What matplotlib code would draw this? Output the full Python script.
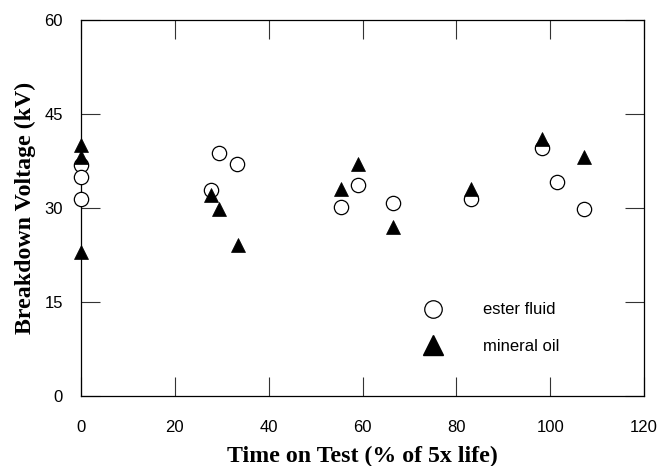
import matplotlib
matplotlib.use('Agg')
import matplotlib.pyplot as plt
from matplotlib.lines import Line2D

# ester fluid readings (time on test %, breakdown kV)
ester_time = [0, 0, 0, 27.7, 29.5, 33.3, 55.4, 59.0, 66.6, 83.1, 98.2, 101.4, 107.2]
ester_kv = [36.9, 34.9, 31.4, 32.9, 38.7, 37.1, 30.1, 33.7, 30.8, 31.4, 39.5, 34.2, 29.8]

# mineral oil readings
oil_time = [0, 0, 0, 27.7, 29.5, 33.4, 55.4, 59.0, 66.6, 83.1, 98.2, 107.3]
oil_kv = [40.0, 38.1, 23.0, 32.1, 29.9, 24.1, 33.0, 37.1, 27.0, 33.0, 41.0, 38.1]

x_ticks = [0, 20, 40, 60, 80, 100, 120]
y_ticks = [0, 15, 30, 45, 60]

sans = ['Liberation Sans', 'DejaVu Sans']
serif = ['Liberation Serif', 'DejaVu Serif']

fig = plt.figure(figsize=(6.62, 4.66), dpi=100)
ax = fig.add_axes([81 / 662, 1 - 396 / 466, 563 / 662, 376 / 466])

ax.plot(ester_time, ester_kv, linestyle='none', marker='o', markersize=10.3, clip_on=False,
        markerfacecolor='white', markeredgecolor='black', markeredgewidth=0.9, zorder=3)
ax.plot(oil_time, oil_kv, linestyle='none', marker='^', markersize=9.4, clip_on=False,
        markerfacecolor='black', markeredgecolor='black', markeredgewidth=0.5, zorder=4)

ax.set_xlim(0, 120)
ax.set_ylim(0, 60)
ax.set_xticks(x_ticks)
ax.set_yticks(y_ticks)
ax.tick_params(direction='in', length=13.7, width=0.8, top=True, right=True,
               labelsize=12, color='#333333')
ax.tick_params(axis='x', pad=17)
ax.tick_params(axis='y', pad=13)
for lab in ax.get_xticklabels() + ax.get_yticklabels():
    lab.set_family(sans)
for sp in ax.spines.values():
    sp.set_linewidth(0.9)

ax.set_xlabel('Time on Test (% of 5x life)', family=serif, fontweight='bold', fontsize=17.2, labelpad=8)
ax.set_ylabel('Breakdown Voltage (kV)', family=serif, fontweight='bold', fontsize=17.2, labelpad=6)

handles = [
    Line2D([], [], linestyle='none', marker='o', markersize=12.6, markerfacecolor='white',
           markeredgecolor='black', markeredgewidth=0.9),
    Line2D([], [], linestyle='none', marker='^', markersize=14.5, markerfacecolor='black',
           markeredgecolor='black'),
]
ax.legend(handles, ['ester fluid', 'mineral oil'], loc='center', bbox_to_anchor=(0.723, 0.18),
          frameon=False, prop={'family': sans, 'size': 12}, handlelength=2.0,
          handletextpad=2.0, labelspacing=1.3)

fig.savefig('out.png', dpi=100)
